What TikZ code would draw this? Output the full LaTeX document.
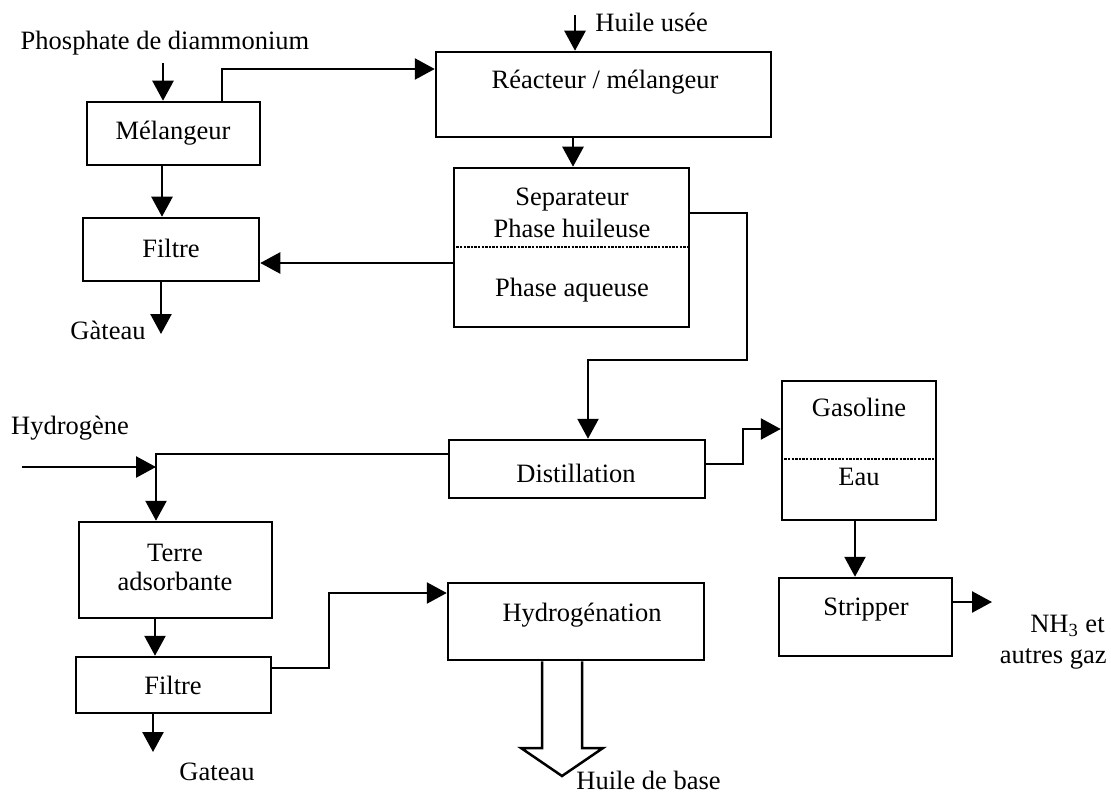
\documentclass[tikz,border=0pt]{standalone}
\usepackage{fontspec}
\setmainfont{Liberation Serif}
\usetikzlibrary{arrows.meta,fit}
\begin{document}
\begin{tikzpicture}[x=0.5pt,y=-0.5pt,
  every node/.style={font=\fontsize{13.25}{14.5}\selectfont, inner sep=0pt},
  box/.style={draw, line width=1.25pt, inner sep=0pt},
  flow/.style={line width=1.25pt, -{Triangle[length=10pt,width=10.5pt]}},
  divider/.style={line width=0.7pt, dash pattern=on 1.2pt off 0.6pt},
  hollow/.style={line width=1.25pt, line join=miter}
]
\useasboundingbox (0,0) rectangle (1111,796);

% boxes
\node[box, fit={(87,102) (260,165)}] (mel) {};
\node[box, fit={(436,52) (771,137)}] (reac) {};
\node[box, fit={(454,168) (689,327)}] (sep) {};
\node[box, fit={(83,218) (259,281)}] (fil1) {};
\node[box, fit={(449,440) (705,498)}] (dist) {};
\node[box, fit={(79,522) (272,618)}] (terre) {};
\node[box, fit={(76,657) (271,713)}] (fil2) {};
\node[box, fit={(448,583) (704,660)}] (hydro) {};
\node[box, fit={(782,381) (936,520)}] (gas) {};
\node[box, fit={(779,578) (952,656)}] (strip) {};

% box texts
\node (melT) at (173,133) {Mélangeur};
\node (reacT) at (605,82) {Réacteur / mélangeur};
\node (sepT1) at (572,200) {Separateur};
\node (sepT2) at (572,228) {Phase huileuse};
\node (sepT3) at (572,290) {Phase aqueuse};
\node (fil1T) at (171,248) {Filtre};
\node (distT) at (576,473) {Distillation};
\node[align=center] (terreT) at (175,567) {Terre\\adsorbante};
\node (fil2T) at (173,685) {Filtre};
\node (hydroT) at (582,615) {Hydrogénation};
\node (gasT1) at (859,407) {Gasoline};
\node (gasT2) at (859,477) {Eau};
\node (stripT) at (866,610) {Stripper};

% dividers
\draw[divider] (sep.west |- 0,247) -- (sep.east |- 0,247);
\draw[divider] (gas.west |- 0,459) -- (gas.east |- 0,459);

% outside labels
\node (phosL) at (165,43) {Phosphate de diammonium};
\node[anchor=west] (huileL) at (595,22) {Huile usée};
\node (gat1L) at (108,330) {Gàteau};
\node (hydL) at (70,428) {Hydrogène};
\node (gat2L) at (217,772) {Gateau};
\node[anchor=west] (baseL) at (576,780) {Huile de base};
\node[anchor=base east] (nhL1) at (1105,632) {NH\textsubscript{3} et};
\node[anchor=base east] (nhL2) at (1107,663) {autres gaz};

% free ends
\coordinate (pIn) at (163,63);
\coordinate (huIn) at (575,15);
\coordinate (gat1Out) at (161,334);
\coordinate (hIn) at (22,467);
\coordinate (hJoin) at (156,467);
\coordinate (gat2Out) at (153,752);
\coordinate (nhOut) at (992,602);

% connectors
\draw[flow] (pIn) -- (163,0 |- mel.north);
\draw[flow] (222,0 |- mel.north) -- (222,69) -- (reac.west |- 0,69);
\draw[flow] (huIn) -- (575,0 |- reac.north);
\draw[flow] (573,0 |- reac.south) -- (573,0 |- sep.north);
\draw[flow] (sep.west |- 0,263) -- (fil1.east |- 0,263);
\draw[flow] (162,0 |- mel.south) -- (162,0 |- fil1.north);
\draw[flow] (161,0 |- fil1.south) -- (gat1Out);
\draw[flow] (sep.east |- 0,213) -- (747,213) -- (747,360) -- (588,360) -- (588,0 |- dist.north);
\draw[flow] (dist.west |- 0,454) -- (156,454) -- (156,0 |- terre.north);
\draw[flow] (hIn) -- (hJoin);
\draw[flow] (155,0 |- terre.south) -- (155,0 |- fil2.north);
\draw[flow] (153,0 |- fil2.south) -- (gat2Out);
\draw[flow] (fil2.east |- 0,668) -- (329,668) -- (329,593) -- (hydro.west |- 0,593);
\draw[flow] (dist.east |- 0,464) -- (743,464) -- (743,429) -- (gas.west |- 0,429);
\draw[flow] (855,0 |- gas.south) -- (855,0 |- strip.north);
\draw[flow] (strip.east |- 0,602) -- (nhOut);

% hollow output arrow
\draw[hollow] (542,0 |- hydro.south) -- (542,748) -- (521,748) -- (562,776) -- (603,748) -- (582,748) -- (582,0 |- hydro.south);
\end{tikzpicture}
\end{document}
